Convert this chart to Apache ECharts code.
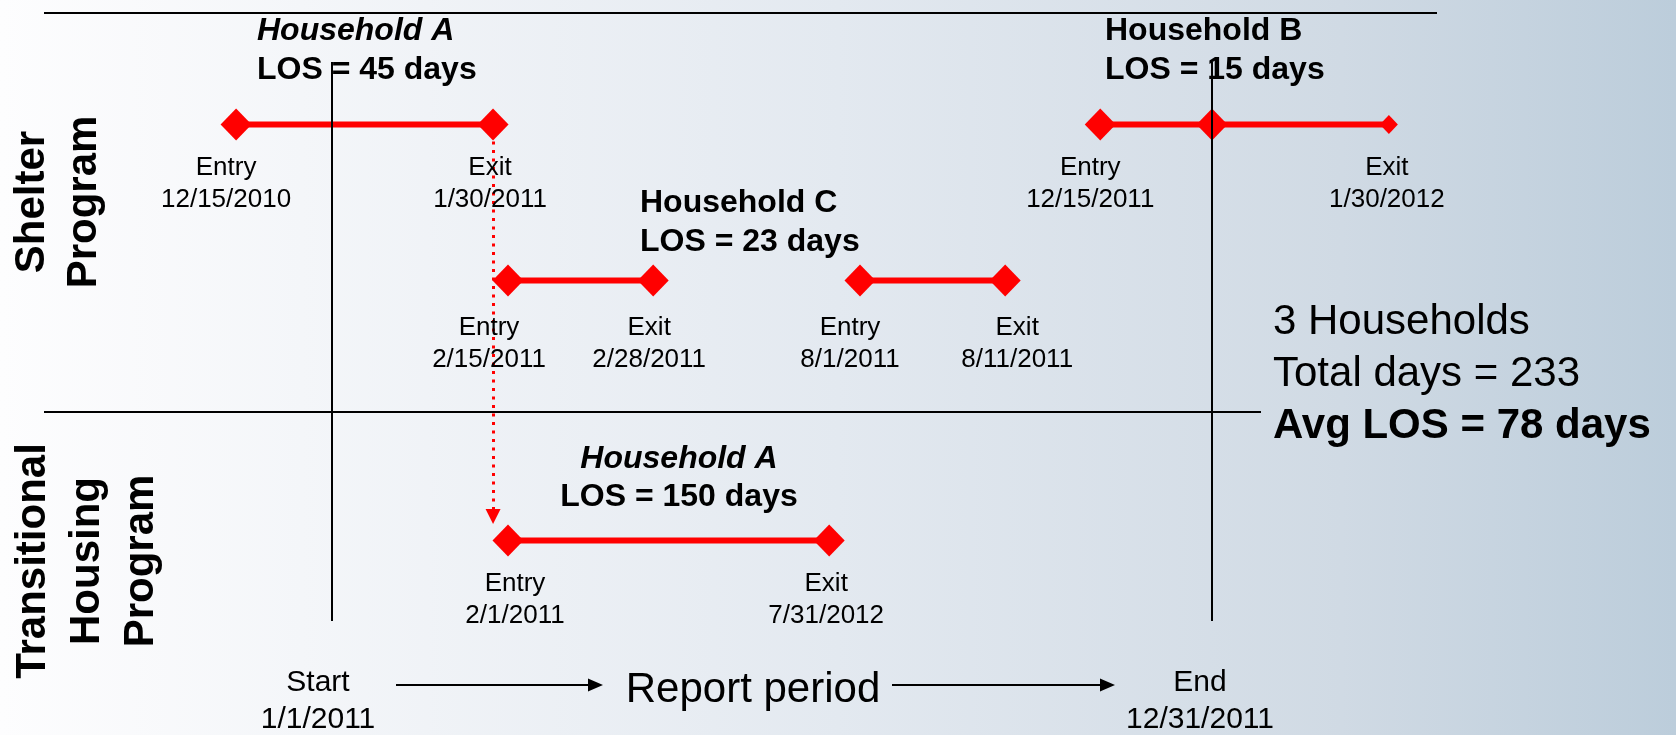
<!DOCTYPE html>
<html>
<head>
<meta charset="utf-8">
<title>Average length of stay</title>
<script src="https://cdn.jsdelivr.net/npm/echarts@6/dist/echarts.min.js"></script>
<style>
    html, body { margin: 0; padding: 0; }
    #losChart { width: 1676px; height: 735px; }
</style>
</head>
<body>
<div id="losChart"></div>
<script>
// schematic timeline: 0 = report start (1/1/2011), 100 = report end (12/31/2011)
// lanes: 0 = shelter (upper), 3 = shelter (lower), 8 = transitional housing
const stayNames = ['Household A shelter', 'Household C stay 1', 'Household C stay 2', 'Household B shelter', 'Household A transitional'];
const stayLanes = [0, 3, 3, 0, 8];
const stayPoints = [[-10.9, 18.3], [20, 36.5], [60, 76.5], [87.3, 100, 120.1], [20, 56.5]];
const stayPointKinds = [['Entry', 'Exit'], ['Entry', 'Exit'], ['Entry', 'Exit'], ['Entry', '', 'Exit'], ['Entry', 'Exit']];
const stayPointDates = [['12/15/2010', '1/30/2011'], ['2/15/2011', '2/28/2011'], ['8/1/2011', '8/11/2011'], ['12/15/2011', '', '1/30/2012'], ['2/1/2011', '7/31/2012']];
const reportMarks = [0, 100];
const reportNames = ['Start', 'End'];
const reportDates = ['1/1/2011', '12/31/2011'];
const reportLaneSpan = [-1.2, 9.55];
const transferPath = [[18.3, 0], [18.3, 7.54]];
const householdNames = ['Household A', 'Household C', 'Household B', 'Household A'];
const losDays = [45, 23, 15, 150];
const summaryLines = ['3 Households', 'Total days = 233', 'Avg LOS = 78 days'];

// layout only (pixels)
const labelNudge = [[-10, -3], [-19, -4], [-10, 12], [-10, 0, -2], [7, -3]];
const FONT = '"Liberation Sans", Arial, sans-serif';
const RED = '#ff0000';
const W = 1676, H = 735;
const startPx = 332, endPx = 1212, lane0Px = 124.4, lanePx = 52;
const unitPx = (endPx - startPx) / 100;

var myChart = echarts.init(document.getElementById('losChart'));

function txt (x, y, text, font, align, extra) {
    let el = {
        type: 'text', x: x, y: y, silent: true, z: 5,
        style: { text: text, font: font, fill: '#000', textAlign: align || 'left', textVerticalAlign: 'middle' }
    };
    if (extra) {
        Object.assign(el.style, extra.style || {});
        if (extra.rotation) el.rotation = extra.rotation;
    }
    return el;
}

function arrow (x1, x2, y) {
    return [
        { type: 'line', silent: true, z: 5, shape: { x1: x1, y1: y, x2: x2 - 12, y2: y }, style: { stroke: '#000', lineWidth: 2 } },
        { type: 'polygon', silent: true, z: 5, shape: { points: [[x2, y], [x2 - 15, y - 6.5], [x2 - 15, y + 6.5]] }, style: { fill: '#000' } }
    ];
}

let titleSpots = [[257, 'left'], [640, 'left'], [1105, 'left'], [679, 'center']];
let titleRows = [[31, 70], [203, 242], [31, 70], [459, 497]];
let graphics = [
    {
        type: 'rect', silent: true, z: -100,
        shape: { x: 0, y: 0, width: W, height: H },
        style: {
            fill: new echarts.graphic.LinearGradient(0, 0, 1, 0, [
                { offset: 0, color: '#fdfdfe' },
                { offset: 0.18, color: '#f4f6f9' },
                { offset: 0.5, color: '#e3e9f0' },
                { offset: 0.8, color: '#d0dae4' },
                { offset: 1, color: '#bccddb' }
            ])
        }
    },
    { type: 'line', silent: true, z: 1, shape: { x1: 44, y1: 13, x2: 1437, y2: 13 }, style: { stroke: '#000', lineWidth: 2 } },
    { type: 'line', silent: true, z: 1, shape: { x1: 44, y1: 412, x2: 1261, y2: 412 }, style: { stroke: '#000', lineWidth: 2 } }
];
householdNames.forEach(function (name, i) {
    let italic = name === 'Household A' ? 'italic ' : '';
    graphics.push(txt(titleSpots[i][0], titleRows[i][0], name, italic + 'bold 32px ' + FONT, titleSpots[i][1]));
    graphics.push(txt(titleSpots[i][0], titleRows[i][1], 'LOS = ' + losDays[i] + ' days', 'bold 32px ' + FONT, titleSpots[i][1]));
});
summaryLines.forEach(function (line, i) {
    let weight = i === summaryLines.length - 1 ? 'bold ' : '';
    graphics.push(txt(1273, 322 + i * 52, line, weight + '42px ' + FONT));
});
let reportX = [318, 1200];
reportNames.forEach(function (name, i) {
    graphics.push(txt(reportX[i], 701, name + '\n' + reportDates[i], '30px ' + FONT, 'center', { style: { lineHeight: 37 } }));
});
graphics.push(txt(753, 690, 'Report period', '42px ' + FONT, 'center'));
graphics = graphics.concat(arrow(396, 603, 685), arrow(892, 1115, 685));
graphics.push(txt(58, 202, 'Shelter\nProgram', 'bold 42px ' + FONT, 'center', { style: { lineHeight: 52 }, rotation: Math.PI / 2 }));
graphics.push(txt(87, 561, 'Transitional\nHousing\nProgram', 'bold 42px ' + FONT, 'center', { style: { lineHeight: 54 }, rotation: Math.PI / 2 }));

let stays = stayNames.map(function (name, i) {
    return {
        type: 'line',
        name: name,
        z: 4,
        silent: true,
        symbol: 'diamond',
        showAllSymbol: true,
        lineStyle: { color: RED, width: 6 },
        itemStyle: { color: RED },
        label: {
            show: true,
            position: 'bottom',
            distance: stayLanes[i] === 3 ? 15 : 11,
            color: '#000',
            fontSize: 26,
            lineHeight: 32,
            fontFamily: FONT,
            align: 'center'
        },
        emphasis: { disabled: true },
        data: stayPoints[i].map(function (x, j) {
            let kind = stayPointKinds[i][j];
            let small = i === 3 && j === 2;
            return {
                value: [x, stayLanes[i]],
                symbolSize: small ? [18, 19] : [31, 32],
                label: {
                    show: kind !== '',
                    formatter: kind + '\n' + stayPointDates[i][j],
                    distance: small ? 18 : undefined,
                    offset: [labelNudge[i][j], 0]
                }
            };
        })
    };
});

let option = {
    animation: false,
    // grid fills the canvas so nothing gets clipped; the axes are scaled to the schematic units
    grid: { left: 0, right: 0, top: 0, bottom: 0, containLabel: false, outerBoundsMode: 'none' },
    xAxis: { type: 'value', min: -startPx / unitPx, max: 100 + (W - endPx) / unitPx, show: false },
    yAxis: { type: 'value', min: -lane0Px / lanePx, max: (H - lane0Px) / lanePx, inverse: true, show: false },
    graphic: graphics,
    series: [
        {
            type: 'line',
            name: 'report period',
            z: 1,
            data: [],
            markLine: {
                silent: true,
                symbol: 'none',
                label: { show: false },
                emphasis: { disabled: true },
                lineStyle: { color: '#000', width: 2, type: 'solid' },
                data: reportMarks.map(function (v) {
                    return [{ coord: [v, reportLaneSpan[0]] }, { coord: [v, reportLaneSpan[1]] }];
                })
            }
        },
        {
            type: 'lines',
            name: 'transfer',
            coordinateSystem: 'cartesian2d',
            z: 3,
            silent: true,
            symbol: ['none', 'triangle'],
            symbolSize: [26, 15],
            lineStyle: { color: RED, width: 3, type: [3, 5.5], opacity: 1 },
            data: [{ coords: transferPath }]
        }
    ].concat(stays)
};
myChart.setOption(option);
</script>
</body>
</html>
